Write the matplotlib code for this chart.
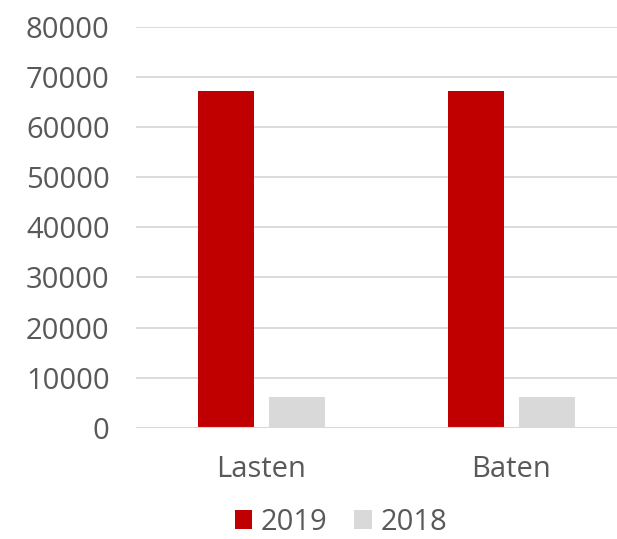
import matplotlib.pyplot as plt
import numpy as np

categories = ['Lasten', 'Baten']
values_2019 = [67300, 67300]
values_2018 = [6100, 6100]
series_labels = ['2019', '2018']
y_ticks = [0, 10000, 20000, 30000, 40000, 50000, 60000, 70000, 80000]

RED = '#c00000'
GREY = '#d9d9d9'
TEXT = '#595959'

plt.rcParams['font.family'] = ['Open Sans', 'DejaVu Sans']

fig = plt.figure(figsize=(6.17, 5.39), dpi=100)
ax = fig.add_axes([136 / 617, (539 - 427.7) / 539, 1 - 136 / 617, (427.7 - 27) / 539])

x = np.arange(len(categories))
width = 0.223
offset = 0.1424
ax.bar(x - offset, values_2019, width, color=RED, label=series_labels[0], zorder=3)
ax.bar(x + offset, values_2018, width, color=GREY, label=series_labels[1], zorder=3)

ax.set_xlim(-0.502, 1.422)
ax.set_ylim(0, 80000)
ax.set_yticks(y_ticks)
ax.set_yticklabels([str(v) for v in y_ticks])
ax.set_xticks(x)
ax.set_xticklabels(categories)

ax.yaxis.grid(True, color='#d9d9d9', linewidth=1.3, zorder=0)
ax.set_axisbelow(True)
for s in ['top', 'right', 'left', 'bottom']:
    ax.spines[s].set_visible(False)
ax.axhline(0, color='#d9d9d9', linewidth=1.5, zorder=4)

ax.tick_params(axis='both', length=0, labelsize=21, colors=TEXT)
ax.tick_params(axis='y', pad=19)
ax.tick_params(axis='x', pad=20)

fig.legend(loc='lower center', bbox_to_anchor=(341 / 617, -0.045), ncol=2,
           frameon=False, fontsize=21, labelcolor=TEXT,
           handlelength=0.6, handleheight=0.6, handletextpad=0.3, columnspacing=0.9)

fig.savefig('out.png', dpi=100)
